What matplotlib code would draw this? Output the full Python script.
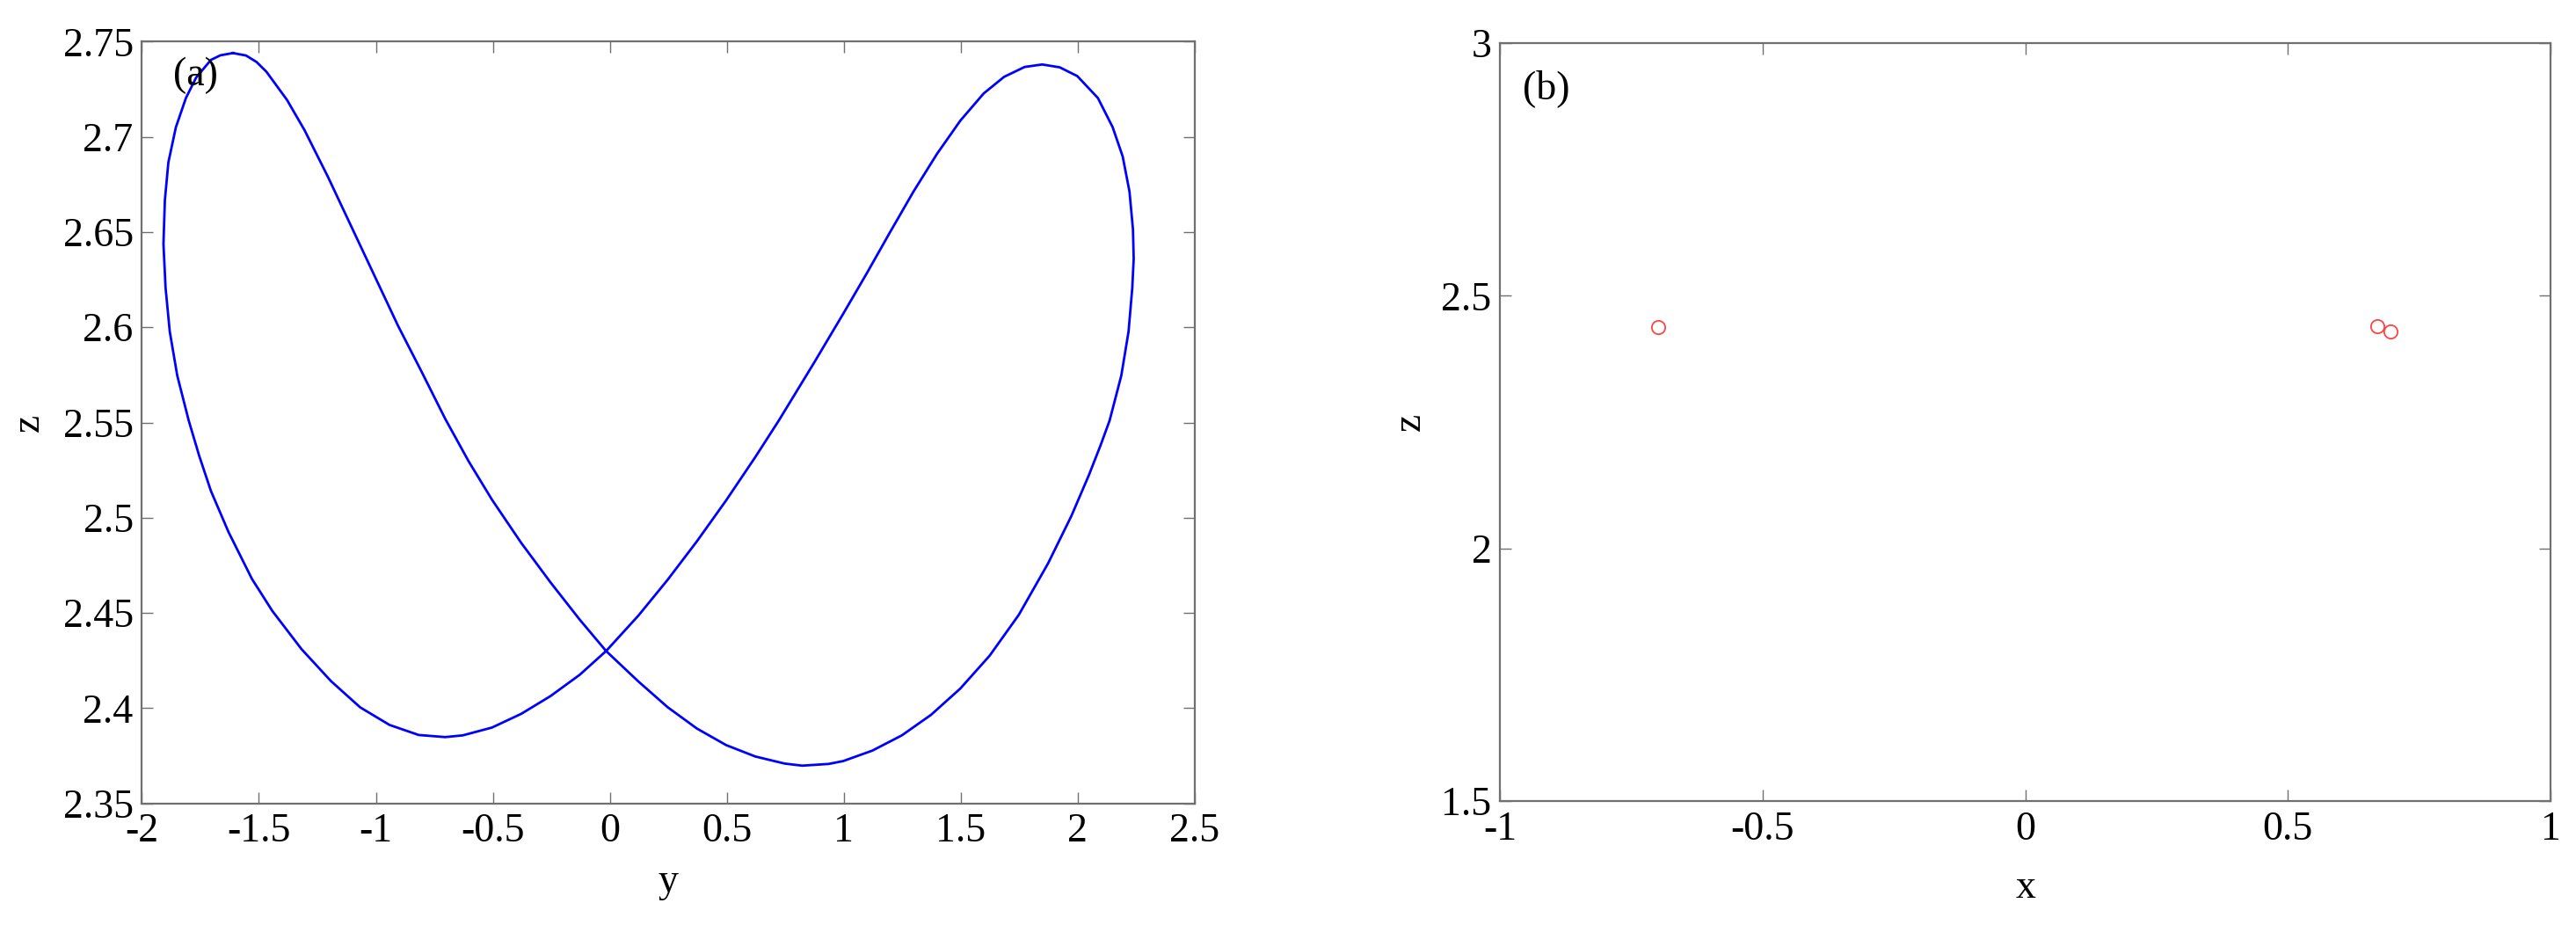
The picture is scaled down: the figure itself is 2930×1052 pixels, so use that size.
'''phase portrait (a) and Poincare section points (b)'''

import numpy as np
import matplotlib.pyplot as plt

plt.rcParams['font.family'] = ['Liberation Serif', 'DejaVu Serif']
plt.rcParams['axes.unicode_minus'] = False

# (a) closed orbit projected on the y-z plane
orbit_y = [-1.611, -1.555, -1.510, -1.468, -1.380, -1.305, -1.205, -1.105, -1.005, -0.905,
           -0.804, -0.704, -0.604, -0.504, -0.379, -0.254, -0.129, -0.016, 0.122, 0.247,
           0.372, 0.497, 0.622, 0.747, 0.822, 0.935, 0.997, 1.122, 1.248, 1.373,
           1.498, 1.623, 1.748, 1.873, 1.973, 2.048, 2.098, 2.136, 2.186, 2.217,
           2.233, 2.239, 2.236, 2.221, 2.192, 2.149, 2.086, 1.998, 1.923, 1.848,
           1.773, 1.685, 1.598, 1.498, 1.398, 1.298, 1.197, 1.098, 0.997, 0.872,
           0.722, 0.622, 0.497, 0.372, 0.247, 0.122, -0.016, -0.129, -0.254, -0.379,
           -0.504, -0.629, -0.704, -0.817, -0.942, -1.067, -1.192, -1.318, -1.443, -1.530,
           -1.630, -1.705, -1.755, -1.800, -1.849, -1.881, -1.899, -1.908, -1.902, -1.887,
           -1.855, -1.812, -1.768, -1.705, -1.665, -1.611]
orbit_z = [2.7440, 2.7427, 2.7393, 2.7342, 2.7194, 2.7035, 2.6790, 2.6529, 2.6268, 2.6007,
           2.5765, 2.5520, 2.5297, 2.5095, 2.4868, 2.4661, 2.4465, 2.4300, 2.4140, 2.4005,
           2.3893, 2.3806, 2.3746, 2.3709, 2.3698, 2.3707, 2.3722, 2.3777, 2.3857, 2.3965,
           2.4103, 2.4275, 2.4490, 2.4760, 2.5010, 2.5225, 2.5382, 2.5510, 2.5746, 2.5977,
           2.6207, 2.6360, 2.6513, 2.6713, 2.6897, 2.7051, 2.7204, 2.7319, 2.7365, 2.7380,
           2.7367, 2.7315, 2.7228, 2.7085, 2.6910, 2.6713, 2.6498, 2.6283, 2.6070, 2.5812,
           2.5510, 2.5319, 2.5091, 2.4876, 2.4674, 2.4486, 2.4300, 2.4175, 2.4063, 2.3970,
           2.3898, 2.3857, 2.3848, 2.3859, 2.3912, 2.4004, 2.4142, 2.4310, 2.4511, 2.4679,
           2.4925, 2.5140, 2.5324, 2.5510, 2.5746, 2.5977, 2.6207, 2.6437, 2.6667, 2.6866,
           2.7050, 2.7204, 2.7312, 2.7404, 2.7428, 2.7440]

# (b) section points
sect_x = [-0.699, 0.670, 0.695]
sect_z = [2.438, 2.440, 2.429]

a_xticks = [-2, -1.5, -1, -0.5, 0, 0.5, 1, 1.5, 2, 2.5]
a_xlabels = ['-2', '-1.5', '-1', '-0.5', '0', '0.5', '1', '1.5', '2', '2.5']
a_yticks = [2.35, 2.4, 2.45, 2.5, 2.55, 2.6, 2.65, 2.7, 2.75]
a_ylabels = ['2.35', '2.4', '2.45', '2.5', '2.55', '2.6', '2.65', '2.7', '2.75']
b_xticks = [-1, -0.5, 0, 0.5, 1]
b_xlabels = ['-1', '-0.5', '0', '0.5', '1']
b_yticks = [1.5, 2, 2.5, 3]
b_ylabels = ['1.5', '2', '2.5', '3']

fs = 33
spine_col = '#707070'

fig = plt.figure(figsize=(29.3, 10.52), dpi=100)
axa = fig.add_axes([0.0551, 0.1315, 0.4087, 0.8235])
axb = fig.add_axes([0.5823, 0.1340, 0.4078, 0.8195])

def style(ax):
    for s in ax.spines.values():
        s.set_color(spine_col)
        s.set_linewidth(1.6)
    ax.tick_params(direction='in', length=9.5, width=1.0, color=spine_col,
                   top=True, right=True, labelsize=fs, labelcolor='black')
    ax.tick_params(axis='x', pad=8)
    ax.tick_params(axis='y', pad=7)

axa.plot(orbit_y, orbit_z, color='blue', lw=2)
axa.set_xlim(-2, 2.5)
axa.set_ylim(2.35, 2.75)
axa.set_xticks(a_xticks, a_xlabels)
axa.set_yticks(a_yticks, a_ylabels)
style(axa)
axa.set_xlabel('y', fontsize=fs, va='center')
axa.set_ylabel('z', fontsize=fs, va='center')
axa.xaxis.set_label_coords(0.5, -0.103)
axa.yaxis.set_label_coords(-0.108, 0.5)
axa.text(0.03, 0.98, '(a)', transform=axa.transAxes, fontsize=fs, va='top', ha='left')

axb.plot(sect_x, sect_z, 'o', mfc='none', mec='#ff4444', ms=11, mew=1.3, ls='none')
axb.set_xlim(-1, 1)
axb.set_ylim(1.5, 3)
axb.set_xticks(b_xticks, b_xlabels)
axb.set_yticks(b_yticks, b_ylabels)
style(axb)
axb.set_xlabel('x', fontsize=fs, va='center')
axb.set_ylabel('z', fontsize=fs, va='center')
axb.xaxis.set_label_coords(0.5, -0.115)
axb.yaxis.set_label_coords(-0.086, 0.5)
axb.text(0.022, 0.965, '(b)', transform=axb.transAxes, fontsize=fs, va='top', ha='left')

plt.savefig('out.png', dpi=100)
